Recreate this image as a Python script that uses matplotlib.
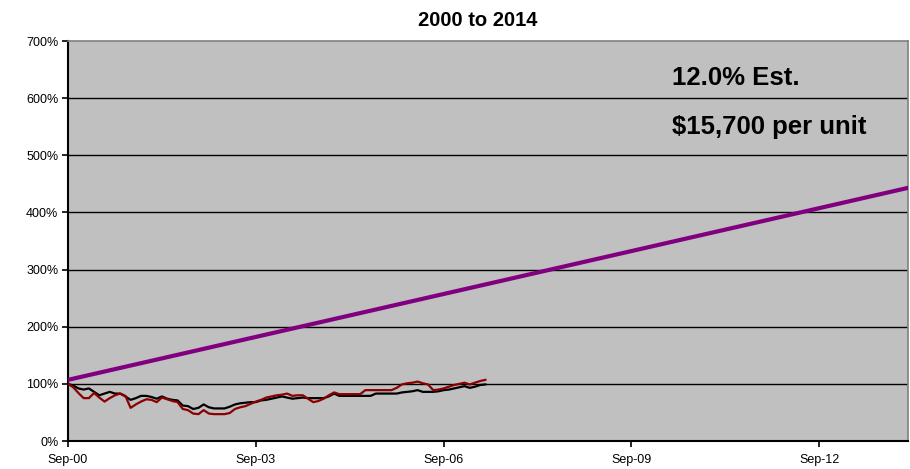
import matplotlib
matplotlib.use("Agg")
import matplotlib.pyplot as plt
import numpy as np

plt.rcParams['font.family'] = ['Liberation Sans', 'DejaVu Sans']

title = "2000 to 2014"
tick_labels = ["Sep-00", "Sep-03", "Sep-06", "Sep-09", "Sep-12"]
tick_months = [0, 36, 72, 108, 144]
x_max_month = 161

# monthly index values (% of Sep-00), Sep-00 .. May-07
series_black = [100, 97, 92, 90, 92, 86, 80, 83, 86, 83, 83, 78, 72, 75, 79, 79, 77, 74, 78, 74,
                72, 71, 62, 61, 56, 58, 64, 59, 57, 57, 57, 60, 64, 66, 67, 68, 68, 71, 72, 74,
                76, 78, 76, 74, 75, 76, 75, 75, 75, 75, 78, 83, 79, 79, 79, 79, 79, 79, 79, 83,
                83, 83, 83, 83, 85, 86, 87, 89, 86, 86, 86, 87, 89, 90, 92, 94, 96, 93, 95, 98, 99]
series_red = [100, 94, 84, 75, 75, 84, 76, 69, 75, 80, 83, 79, 58, 64, 69, 73, 72, 68, 76, 73,
              70, 68, 56, 54, 48, 47, 54, 48, 47, 47, 47, 49, 56, 59, 61, 65, 69, 72, 76, 78,
              80, 81, 83, 79, 80, 80, 74, 68, 70, 74, 80, 85, 82, 82, 82, 82, 82, 89, 89, 89,
              89, 89, 89, 93, 99, 101, 102, 104, 101, 99, 89, 90, 92, 95, 98, 100, 102, 99, 102, 105, 107]
# estimate trend line (start and end values)
trend_months = [0, 161]
trend_values = [107, 443]

annot1 = "12.0% Est."
annot2 = "$15,700 per unit"

fig = plt.figure(figsize=(9.1, 4.69), dpi=100)
ax = fig.add_axes([68/910, 28/469, 840/910, 400/469])
ax.set_facecolor('#C0C0C0')

ax.set_xlim(0, x_max_month)
ax.set_ylim(0, 700)
yt = np.arange(0, 701, 100)
ax.set_yticks(yt)
ax.set_yticklabels([f"{v}%" for v in yt], fontsize=9)
for v in yt[1:-1]:
    ax.axhline(v, color='black', lw=1.0, zorder=1)

ax.set_xticks(tick_months)
ax.set_xticklabels(tick_labels, fontsize=9)
ax.tick_params(axis='y', direction='out', length=4, width=1.2, color='black', pad=3)
ax.tick_params(axis='x', direction='out', length=4, width=1.2, color='black', pad=5)

ax.plot(trend_months, trend_values, color='#800080', lw=3, zorder=3)
m = np.arange(len(series_black))
ax.plot(m, series_black, color='black', lw=1.6, zorder=4)
ax.plot(np.arange(len(series_red)), series_red, color='#8B0000', lw=1.6, zorder=5)

for s in ['left', 'bottom']:
    ax.spines[s].set_color('black')
    ax.spines[s].set_linewidth(1.5)
for s in ['top', 'right']:
    ax.spines[s].set_color('#808080')
    ax.spines[s].set_linewidth(1.2)

fig.text(478/910, 1 - 20/469, title, ha='center', va='center', fontsize=14.5, fontweight='bold')
fig.text(672/910, 1 - 78/469, annot1, ha='left', va='center', fontsize=18.5, fontweight='bold')
fig.text(672/910, 1 - 127/469, annot2, ha='left', va='center', fontsize=18.5, fontweight='bold')

fig.savefig("out.png", dpi=100)
